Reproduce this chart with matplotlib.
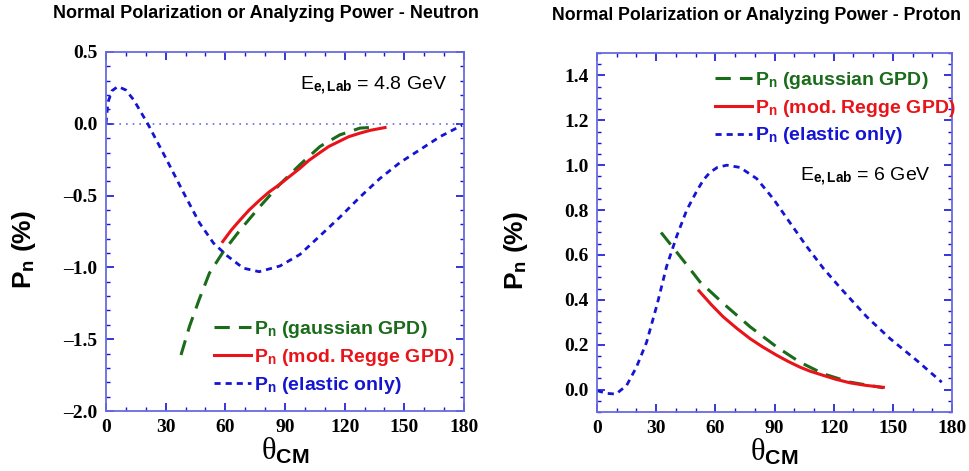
import matplotlib.pyplot as plt
from matplotlib.ticker import MultipleLocator

plt.rcParams['mathtext.fontset'] = 'custom'
plt.rcParams['mathtext.rm'] = 'Liberation Sans:bold'
plt.rcParams['mathtext.bf'] = 'Liberation Sans:bold'
plt.rcParams['mathtext.it'] = 'Liberation Serif'
plt.rcParams['font.family'] = 'Liberation Sans'

# neutron, E = 4.8 GeV
n_el_x = [0, 1, 3, 6, 10, 14, 21, 30.5, 39, 47, 54, 61, 69, 77, 87.5, 97.5, 107.6, 117.6, 127.7, 137.8, 147.8, 157.9, 167.9, 179]
n_el_y = [0.0, 0.15, 0.23, 0.26, 0.235, 0.165, 0.0, -0.25, -0.48, -0.69, -0.83, -0.92, -1.005, -1.03, -0.99, -0.91, -0.78, -0.65, -0.51, -0.38, -0.27, -0.18, -0.09, -0.01]
n_gau_x = [37.7, 42, 46.8, 52, 59, 67.4, 77.4, 87.5, 97.5, 107.6, 117.6, 127.7, 136]
n_gau_y = [-1.61, -1.41, -1.225, -1.04, -0.89, -0.74, -0.576, -0.42, -0.285, -0.158, -0.077, -0.03, -0.023]
n_reg_x = [58.7, 63, 67.4, 72, 77.4, 82, 87.5, 92, 97.5, 102, 107.6, 112, 117.6, 122, 127.7, 133, 140.3]
n_reg_y = [-0.82, -0.74, -0.67, -0.60, -0.53, -0.475, -0.42, -0.37, -0.31, -0.255, -0.20, -0.158, -0.12, -0.09, -0.065, -0.045, -0.026]

# proton, E = 6 GeV
p_el_x = [0, 4.9, 9.6, 15, 20, 25.1, 30.5, 35.3, 40.4, 45.5, 50.6, 54, 57.3, 61, 65.8, 72.5, 81, 89.4, 97.9, 106.3, 114.8, 123.5, 136.8, 148.6, 162.1, 174.8]
p_el_y = [-0.005, -0.017, -0.02, 0.018, 0.1, 0.21, 0.38, 0.549, 0.683, 0.80, 0.885, 0.935, 0.968, 0.99, 1.0, 0.99, 0.94, 0.85, 0.743, 0.638, 0.54, 0.452, 0.324, 0.227, 0.13, 0.033]
p_gau_x = [32.5, 45.5, 52.2, 64, 77.6, 91.1, 102.9, 114.8, 128.3, 145.2]
p_gau_y = [0.70, 0.556, 0.48, 0.384, 0.28, 0.19, 0.122, 0.07, 0.033, 0.008]
p_reg_x = [51.7, 58, 64, 71, 77.6, 84, 91.1, 97, 102.9, 108, 114.8, 121, 128.3, 136, 145.2]
p_reg_y = [0.44, 0.378, 0.324, 0.272, 0.227, 0.19, 0.153, 0.125, 0.10, 0.082, 0.063, 0.046, 0.03, 0.019, 0.01]

labels = [r'P$_\mathrm{n}$ (gaussian GPD)', r'P$_\mathrm{n}$ (mod. Regge GPD)', r'P$_\mathrm{n}$ (elastic only)']
green = '#1a6b1a'
red = '#e8141a'
blue = '#1414d2'
frame = '#6a6ae0'

fig = plt.figure(figsize=(9.69, 4.71), dpi=100)
W, H = 969, 471
ax1 = fig.add_axes([106 / W, 1 - 411 / H, 358 / W, 359 / H])
ax2 = fig.add_axes([597 / W, 1 - 412 / H, 355 / W, 359 / H])


def style(ax, ymaj, ymin):
    ax.set_xlim(0, 180)
    ax.xaxis.set_major_locator(MultipleLocator(30))
    ax.xaxis.set_minor_locator(MultipleLocator(10))
    ax.yaxis.set_major_locator(MultipleLocator(ymaj))
    ax.yaxis.set_minor_locator(MultipleLocator(ymin))
    for s in ax.spines.values():
        s.set_color(frame)
        s.set_linewidth(1.3)
    ax.tick_params(which='both', direction='in', top=True, right=True, color=blue)
    ax.tick_params(which='major', length=6, width=1.2, labelsize=14, pad=6)
    ax.tick_params(which='minor', length=3, width=1.0)
    for t in ax.get_xticklabels() + ax.get_yticklabels():
        t.set_family('Liberation Serif')
        t.set_fontweight('bold')
    ax.set_xlabel(r'$\theta_\mathbf{CM}$', fontsize=22, labelpad=0)
    ax.set_ylabel(r'P$_\mathrm{n}$ (%)', fontsize=19, fontweight='bold')


# left panel
ax1.set_ylim(-2.0, 0.5)
ax1.axhline(0, color=frame, lw=1.2, ls=(0, (1, 3)))
ax1.plot(n_gau_x, n_gau_y, color=green, lw=2.2, ls=(0, (5, 3)), label=labels[0])
ax1.plot(n_reg_x, n_reg_y, color=red, lw=2.2, label=labels[1])
ax1.plot(n_el_x, n_el_y, color=blue, lw=2.0, ls=(0, (2.2, 1.8)), label=labels[2])
style(ax1, 0.5, 0.1)
ax1.set_yticks([0.5, 0.0, -0.5, -1.0, -1.5, -2.0])
ax1.set_yticklabels(['0.5', '0.0', '\u20130.5', '\u20131.0', '\u20131.5', '\u20132.0'],
                    family='Liberation Serif', fontweight='bold')
ax1.yaxis.set_label_coords(-0.19, 0.45)
ax1.text(97.5, 0.237, r'E$_\mathrm{e,Lab}$ = 4.8 GeV', fontsize=14)
leg1 = ax1.legend(loc='upper left', bbox_to_anchor=(0.28, 0.278), frameon=False,
                  fontsize=14, handlelength=1.9, handletextpad=0.15, labelspacing=0.35,
                  labelcolor='linecolor', borderaxespad=0)
for t in leg1.get_texts():
    t.set_fontweight('bold')

# right panel
ax2.set_ylim(-0.1, 1.5)
ax2.plot(p_gau_x, p_gau_y, color=green, lw=2.2, ls=(0, (5, 3)), label=labels[0])
ax2.plot(p_reg_x, p_reg_y, color=red, lw=2.2, label=labels[1])
ax2.plot(p_el_x, p_el_y, color=blue, lw=2.0, ls=(0, (2.2, 1.8)), label=labels[2])
style(ax2, 0.2, 0.05)
ax2.set_yticks([0.0, 0.2, 0.4, 0.6, 0.8, 1.0, 1.2, 1.4])
ax2.set_yticklabels(['0.0', '0.2', '0.4', '0.6', '0.8', '1.0', '1.2', '1.4'],
                    family='Liberation Serif', fontweight='bold')
ax2.yaxis.set_label_coords(-0.19, 0.45)
ax2.text(103, 0.93, r'E$_\mathrm{e,Lab}$ = 6 GeV', fontsize=14)
leg2 = ax2.legend(loc='upper left', bbox_to_anchor=(0.31, 0.975), frameon=False,
                  fontsize=14, handlelength=1.9, handletextpad=0.15, labelspacing=0.35,
                  labelcolor='linecolor', borderaxespad=0)
for t in leg2.get_texts():
    t.set_fontweight('bold')

fig.text(266 / W, 1 - 14 / H, 'Normal Polarization or Analyzing Power - Neutron',
         ha='center', va='center', fontsize=13, fontweight='bold')
fig.text(757 / W, 1 - 16 / H, 'Normal Polarization or Analyzing Power - Proton',
         ha='center', va='center', fontsize=12.8, fontweight='bold')

fig.savefig('out.png', dpi=100)
